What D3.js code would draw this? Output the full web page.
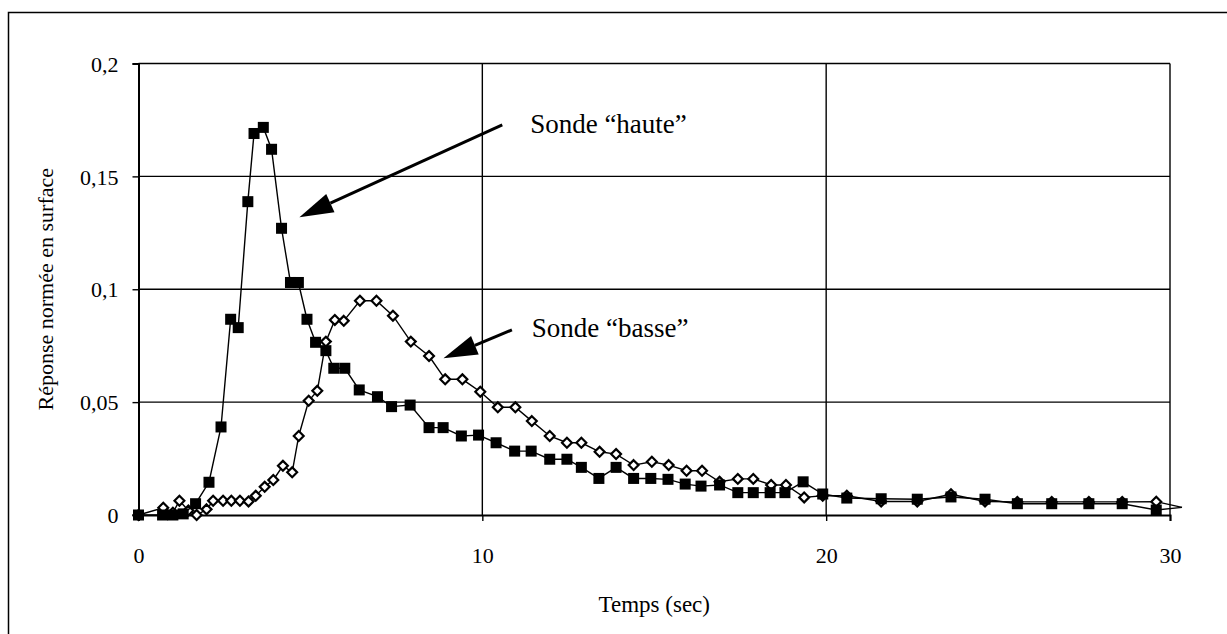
<!DOCTYPE html>
<html>
<head>
<meta charset="utf-8">
<script src="https://d3js.org/d3.v7.min.js"></script>
<style>
  body { margin: 0; background: #fff; }
  text { font-family: "Liberation Serif", "Times New Roman", serif; fill: #000; }
</style>
</head>
<body>
<script>
// Sonde "haute" (carres pleins)
const hauteTime = [0, 0.7, 1.0, 1.3, 1.66, 2.05, 2.4, 2.68, 2.9, 3.18, 3.36, 3.63, 3.87, 4.16, 4.42, 4.65,
  4.9, 5.15, 5.45, 5.68, 6.0, 6.42, 6.95, 7.36, 7.9, 8.45, 8.86, 9.39, 9.89, 10.4, 10.94, 11.42, 11.96,
  12.46, 12.88, 13.39, 13.89, 14.4, 14.9, 15.4, 15.9, 16.36, 16.9, 17.43, 17.88, 18.37, 18.8, 19.33, 19.9,
  20.6, 21.6, 22.65, 23.63, 24.62, 25.56, 26.56, 27.64, 28.61, 29.6, 30.35];
const hauteValue = [0, 0, 0, 0.0005, 0.005, 0.0145, 0.039, 0.0867, 0.083, 0.1388, 0.169, 0.1717, 0.162, 0.127, 0.103, 0.103,
  0.0867, 0.0765, 0.0728, 0.065, 0.065, 0.0554, 0.0524, 0.048, 0.0487, 0.0387, 0.0387, 0.035, 0.0354, 0.032, 0.0283, 0.0283, 0.0247,
  0.0247, 0.0211, 0.0162, 0.0211, 0.0162, 0.0162, 0.0158, 0.0137, 0.0128, 0.0133, 0.0099, 0.0099, 0.0099, 0.0099, 0.0147, 0.0093,
  0.0075, 0.0072, 0.007, 0.008, 0.007, 0.005, 0.005, 0.005, 0.005, 0.0022, 0.0034];

// Sonde "basse" (losanges vides)
const basseTime = [0, 0.72, 1.0, 1.19, 1.45, 1.69, 1.98, 2.17, 2.46, 2.7, 2.95, 3.2, 3.41, 3.67, 3.92, 4.2, 4.47,
  4.66, 4.95, 5.2, 5.45, 5.71, 5.97, 6.44, 6.92, 7.4, 7.92, 8.45, 8.92, 9.42, 9.94, 10.45, 10.96, 11.44,
  11.96, 12.46, 12.88, 13.41, 13.89, 14.4, 14.93, 15.42, 15.94, 16.39, 16.9, 17.43, 17.88, 18.4, 18.83,
  19.36, 19.9, 20.6, 21.6, 22.65, 23.63, 24.62, 25.56, 26.56, 27.64, 28.61, 29.6, 30.35];
const basseValue = [0, 0.0032, 0.001, 0.0063, 0.002, 0, 0.0025, 0.0063, 0.0063, 0.0063, 0.0063, 0.006, 0.0085, 0.0125, 0.0155, 0.0218, 0.0189,
  0.035, 0.0506, 0.055, 0.0768, 0.0864, 0.086, 0.0949, 0.0949, 0.0883, 0.0768, 0.0704, 0.0601, 0.0601, 0.0546, 0.0477, 0.0477, 0.0416,
  0.035, 0.032, 0.032, 0.028, 0.027, 0.0221, 0.0236, 0.0221, 0.0196, 0.0196, 0.0147, 0.016, 0.016, 0.0133, 0.0133,
  0.0078, 0.0085, 0.0085, 0.006, 0.006, 0.0092, 0.006, 0.0058, 0.0058, 0.0058, 0.0058, 0.0059, 0.0034];

const xTicks = [0, 10, 20, 30];
const yTicks = [0, 0.05, 0.1, 0.15, 0.2];
const xTitle = "Temps (sec)";
const yTitle = "Réponse normée en surface";

// annotations, in data units: [label, text x, text y, arrow from x, y, arrow tip x, y]
const notes = [
  ["Sonde \u201chaute\u201d", 11.39, 0.1692, 10.58, 0.1728, 4.68, 0.1319],
  ["Sonde \u201cbasse\u201d", 11.44, 0.0789, 10.86, 0.082, 8.87, 0.0694]
];

const W = 1227, H = 634;
const svg = d3.select("body").append("svg")
  .attr("width", W).attr("height", H);

// outer frame (only left/top visible in the scan)
svg.append("path")
  .attr("d", "M8.5,640V12.5H1240")
  .attr("fill", "none").attr("stroke", "#000").attr("stroke-width", 1.5);

const x = d3.scaleLinear().domain([0, 30]).range([138.5, 1170]);
const y = d3.scaleLinear().domain([0, 0.2]).range([515, 63.5]);
const fmt = d => String(d).replace(".", ",");

// grid
const g = svg.append("g");
g.selectAll(".hg").data(yTicks.slice(1)).join("line")
  .attr("x1", x(0)).attr("x2", x(30))
  .attr("y1", d => y(d)).attr("y2", d => y(d))
  .attr("stroke", "#000").attr("stroke-width", 1.4);
g.selectAll(".vg").data(xTicks.slice(1)).join("line")
  .attr("x1", d => x(d)).attr("x2", d => x(d))
  .attr("y1", y(0)).attr("y2", y(0.2))
  .attr("stroke", "#000").attr("stroke-width", 1.4);

// axes
const xAxis = svg.append("g")
  .attr("transform", `translate(0,${y(0)})`)
  .call(d3.axisBottom(x).tickValues(xTicks).tickSize(6).tickPadding(26).tickFormat(fmt));
const yAxis = svg.append("g")
  .attr("transform", `translate(${x(0)},0)`)
  .call(d3.axisLeft(y).tickValues(yTicks).tickSize(6).tickPadding(14).tickFormat(fmt));
[xAxis, yAxis].forEach(a => {
  a.select(".domain").attr("stroke", "#000").attr("stroke-width", 2);
  a.selectAll(".tick line").attr("stroke", "#000").attr("stroke-width", 1.4);
  a.selectAll("text").attr("font-family", "Liberation Serif").attr("font-size", 22).attr("fill", "#000");
});
yAxis.selectAll("text").attr("dy", "0.35em");

svg.append("text")
  .attr("x", (x(0) + x(30)) / 2).attr("y", 612)
  .attr("text-anchor", "middle").attr("font-size", 23)
  .text(xTitle);
svg.append("text")
  .attr("transform", `translate(53,${(y(0) + y(0.2)) / 2}) rotate(-90)`)
  .attr("text-anchor", "middle").attr("font-size", 22)
  .text(yTitle);

// series
const line = d3.line().x(d => x(d[0])).y(d => y(d[1]));
const basse = basseTime.map((t, i) => [t, basseValue[i]]);
const haute = hauteTime.map((t, i) => [t, hauteValue[i]]);

svg.append("path").attr("d", line(basse))
  .attr("fill", "none").attr("stroke", "#000").attr("stroke-width", 1.4);
svg.selectAll(".dia").data(basse.filter(d => d[0] <= 30)).join("path")
  .attr("d", d3.symbol(d3.symbolDiamond2, 62))
  .attr("transform", d => `translate(${x(d[0])},${y(d[1])})`)
  .attr("fill", "#fff").attr("stroke", "#000").attr("stroke-width", 2.2);

svg.append("path").attr("d", line(haute))
  .attr("fill", "none").attr("stroke", "#000").attr("stroke-width", 1.4);
svg.selectAll(".sq").data(haute.filter(d => d[0] <= 30)).join("rect")
  .attr("x", d => x(d[0]) - 5.5).attr("y", d => y(d[1]) - 5.5)
  .attr("width", 11).attr("height", 11)
  .attr("fill", "#000");

// annotations with arrows
notes.forEach(([label, tx, ty, x0, y0, x1, y1]) => {
  svg.append("text").attr("x", x(tx)).attr("y", y(ty))
    .attr("font-size", 27).text(label);
  const ax = x(x0), ay = y(y0), bx = x(x1), by = y(y1);
  const len = Math.hypot(bx - ax, by - ay), ux = (bx - ax) / len, uy = (by - ay) / len;
  const hl = 34, hw = 10;
  const cx = bx - ux * hl, cy = by - uy * hl;
  svg.append("line").attr("x1", ax).attr("y1", ay).attr("x2", cx).attr("y2", cy)
    .attr("stroke", "#000").attr("stroke-width", 3);
  svg.append("path")
    .attr("d", `M${bx},${by}L${cx - uy * hw},${cy + ux * hw}L${cx + uy * hw},${cy - ux * hw}Z`)
    .attr("fill", "#000");
});
</script>
</body>
</html>
